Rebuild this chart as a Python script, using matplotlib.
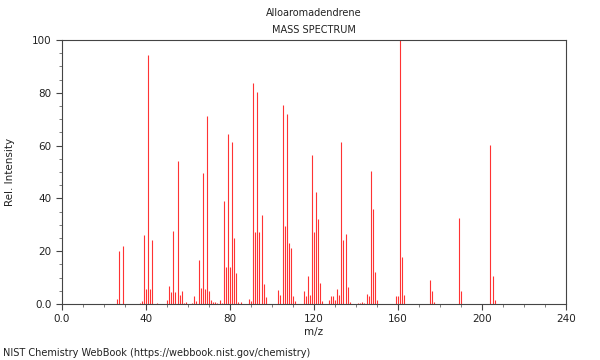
import matplotlib
matplotlib.use("Agg")
import matplotlib.pyplot as plt
from matplotlib.ticker import MultipleLocator, FixedLocator, FixedFormatter

# m/z values and relative intensities
mz = [26, 27, 29, 37, 38, 39, 40, 41, 42, 43, 45,
      50, 51, 52, 53, 54, 55, 56, 57, 58, 59,
      62, 63, 64, 65, 66, 67, 68, 69, 70, 71, 72, 73, 74, 75, 76, 77, 78, 79, 80,
      81, 82, 83, 84, 85, 89, 90, 91, 92, 93, 94, 95, 96, 97,
      103, 104, 105, 106, 107, 108, 109, 110, 111,
      115, 116, 117, 118, 119, 120, 121, 122, 123, 124,
      127, 128, 129, 130, 131, 132, 133, 134, 135, 136, 137,
      141, 142, 143, 144, 145, 146, 147, 148, 149, 150,
      159, 160, 161, 162, 163, 175, 176, 177, 189, 190, 204, 205, 206]
intensity = [2, 20, 22, 0.5, 1, 26, 5.6, 94.3, 5.6, 24.2, 0.5,
             1.5, 6.8, 4.5, 27.8, 4.5, 54.3, 3.4, 5, 0.5, 0.8,
             0.4, 3, 1, 16.7, 5.9, 49.7, 5.7, 71.2, 4.9, 1.5, 0.7, 0.8, 0.5, 1.5, 0.5,
             38.9, 14.1, 64.3, 14.1,
             61.4, 24.9, 11.9, 0.7, 0.7, 2, 1.2, 83.8, 27.3, 80.3, 27.3, 33.7, 7.4, 2.5,
             5.4, 3.3, 75.5, 29.5, 71.8, 23, 21.3, 3, 1,
             5, 3, 10.7, 3.4, 56.3, 27.4, 42.5, 32.1, 7.8, 1,
             1.5, 3, 3, 1.5, 5.8, 3.3, 61.5, 24.2, 26.5, 6.6, 0.8,
             0.5, 0.3, 0.6, 0.4, 3.7, 3, 50.3, 36, 12, 1.5,
             3, 3, 100, 17.8, 3.4, 9.1, 4.9, 0.8, 32.6, 4.9, 60.2, 10.7, 1.5]

xticks = [0, 40, 80, 120, 160, 200, 240]
xticklabels = ["0.0", "40", "80", "120", "160", "200", "240"]
yticks = [0, 20, 40, 60, 80, 100]
yticklabels = ["0.0", "20", "40", "60", "80", "100"]

plt.rcParams['font.family'] = ['DejaVu Sans']
fs = 7
tc = '#222222'

fig = plt.figure(figsize=(6, 3.6), dpi=100)
ax = fig.add_axes([62/600, 1-304/360, 504/600, 264/360])

ax.vlines(mz, 0, intensity, colors='#ff3333', linewidth=0.8)

ax.set_xlim(0, 240)
ax.set_ylim(0, 100)
ax.xaxis.set_major_locator(FixedLocator(xticks))
ax.xaxis.set_major_formatter(FixedFormatter(xticklabels))
ax.yaxis.set_major_locator(FixedLocator(yticks))
ax.yaxis.set_major_formatter(FixedFormatter(yticklabels))
ax.xaxis.set_minor_locator(MultipleLocator(10))
ax.yaxis.set_minor_locator(MultipleLocator(5))
ax.tick_params(which='major', length=4, width=0.8, labelsize=fs + 0.5, colors='#444444', labelcolor=tc)
ax.tick_params(which='minor', length=2, width=0.6, colors='#666666')
for s in ax.spines.values():
    s.set_color('#444444')
    s.set_linewidth(0.8)

ax.set_xlabel('m/z', fontsize=fs + 0.5, color=tc)
ax.xaxis.set_label_coords(0.5, -(327 - 304) / 264)
ax.set_ylabel('Rel. Intensity', fontsize=fs + 0.5, color=tc)
ax.yaxis.set_label_coords(-(62 - 15) / 504, 0.5)

fig.text(314/600, 1-13/360, 'Alloaromadendrene', ha='center', va='center', fontsize=fs, color=tc)
fig.text(314/600, 1-30/360, 'MASS SPECTRUM', ha='center', va='center', fontsize=fs, color=tc)
fig.text(3/600, 1-353/360, 'NIST Chemistry WebBook (https://webbook.nist.gov/chemistry)',
         ha='left', va='center', fontsize=fs, color=tc)

fig.savefig('out.png', dpi=100)
